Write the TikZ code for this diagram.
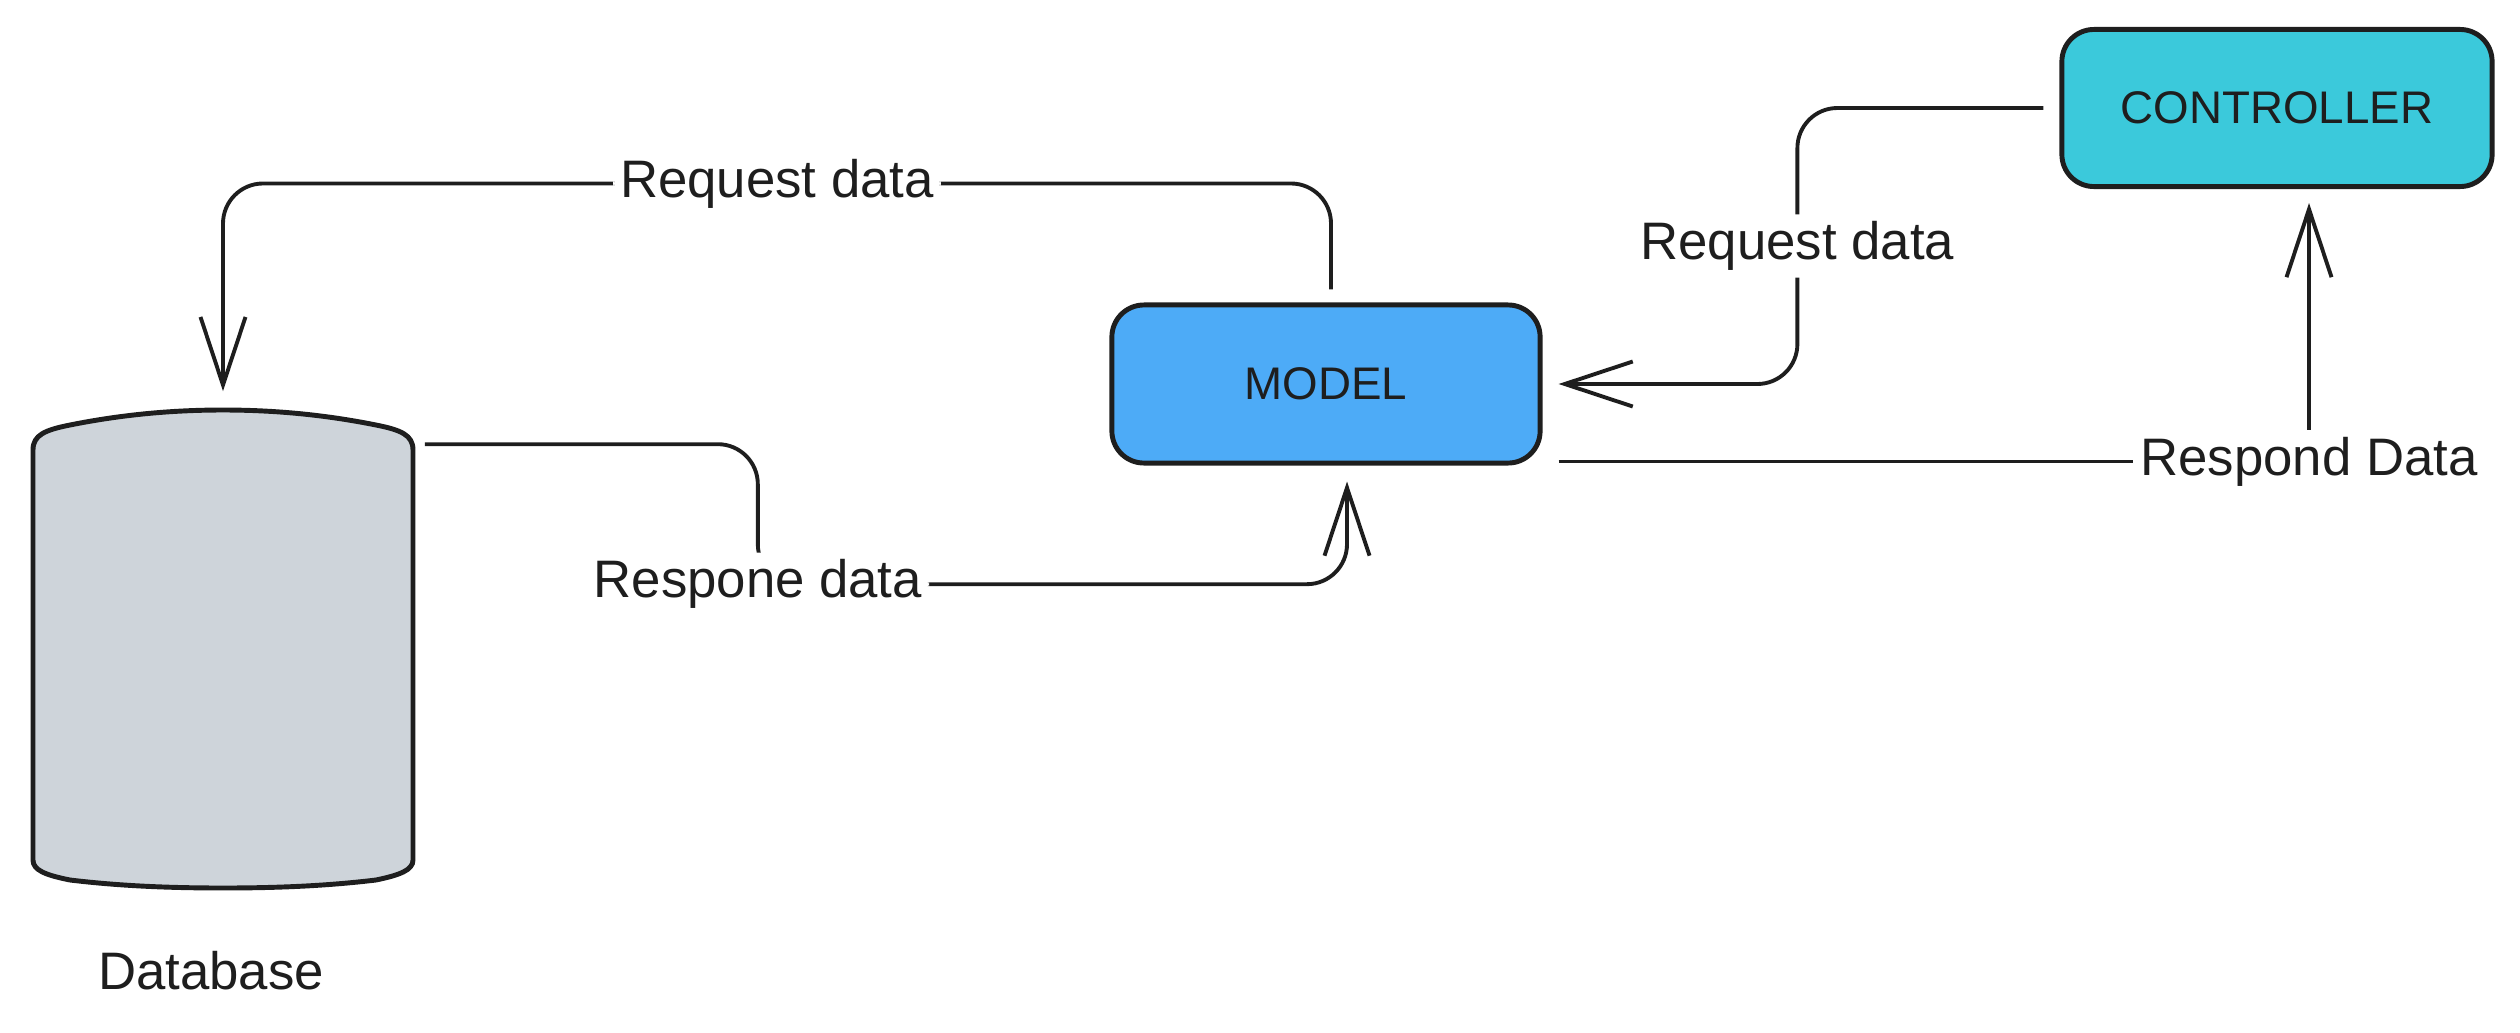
\documentclass[tikz,border=0pt]{standalone}
\usepackage{fontspec}
\setmainfont{Liberation Sans}
\usetikzlibrary{arrows.meta}
\definecolor{ink}{HTML}{1E1E1E}
\definecolor{modelblue}{HTML}{4DABF7}
\definecolor{ctrlcyan}{HTML}{3BC9DB}
\definecolor{dbgray}{HTML}{CED4DA}
\begin{document}
\begin{tikzpicture}[x=0.01cm,y=-0.01cm,
  box/.style={draw=ink,line width=1.4pt,rounded corners=0.32cm,minimum width=4.28cm,minimum height=1.58cm,text=ink,font=\fontsize{13}{15}\selectfont},
  conn/.style={draw=ink,line width=1.1pt,rounded corners=0.4cm,-{Straight Barb[length=0.68cm,width=0.45cm]}},
  lbl/.style={fill=white,inner sep=2pt,text=ink,font=\fontsize{15}{18}\selectfont}]
\useasboundingbox (0,0) rectangle (2520,1033);

% database drum
\draw[ink,line width=1.4pt,fill=dbgray] (33,860) -- (33,450) .. controls (33,435) and (45,430) .. (70,425)
  .. controls (120,415) and (170,410) .. (223,410) .. controls (276,410) and (326,415) .. (376,425)
  .. controls (401,430) and (413,435) .. (413,450) -- (413,860)
  .. controls (413,870) and (400,875) .. (376,880) .. controls (326,886) and (276,888) .. (223,888)
  .. controls (170,888) and (120,886) .. (70,880) .. controls (45,875) and (33,870) .. (33,860) -- cycle;
\node[minimum width=3.8cm,minimum height=4.78cm,inner sep=0] (db) at (223,649) {};
\node[text=ink,font=\fontsize{15}{18}\selectfont] (dblabel) at (211,971) {Database};

\node[box,fill=modelblue] (model) at (1326,384) {MODEL};
\node[box,fill=ctrlcyan,minimum width=4.3cm,minimum height=1.57cm] (ctrl) at (2277,108) {CONTROLLER};

\draw[conn] ([xshift=0.05cm,yshift=0.13cm]model.north) -- ++(0,-106) -| node[lbl,pos=0.25]{Request data} ([yshift=0.18cm]db.north);
\draw[conn] ([shift={(0.11cm,-0.35cm)}]db.north east) -- ++(333,0) -- ++(0,140) -| node[lbl,pos=0]{Respone data} ([xshift=0.21cm,yshift=-0.16cm]model.south);
\draw[conn] ([xshift=-0.16cm]ctrl.west) -- ++(-246,0) |- node[lbl,pos=0.25]{Request data} ([xshift=0.16cm]model.east);
\draw[conn,rounded corners=0pt] ([shift={(0.16cm,0.04cm)}]model.south east) -| node[lbl,pos=0.5]{Respond Data} ([xshift=0.32cm,yshift=-0.14cm]ctrl.south);
\end{tikzpicture}
\end{document}
